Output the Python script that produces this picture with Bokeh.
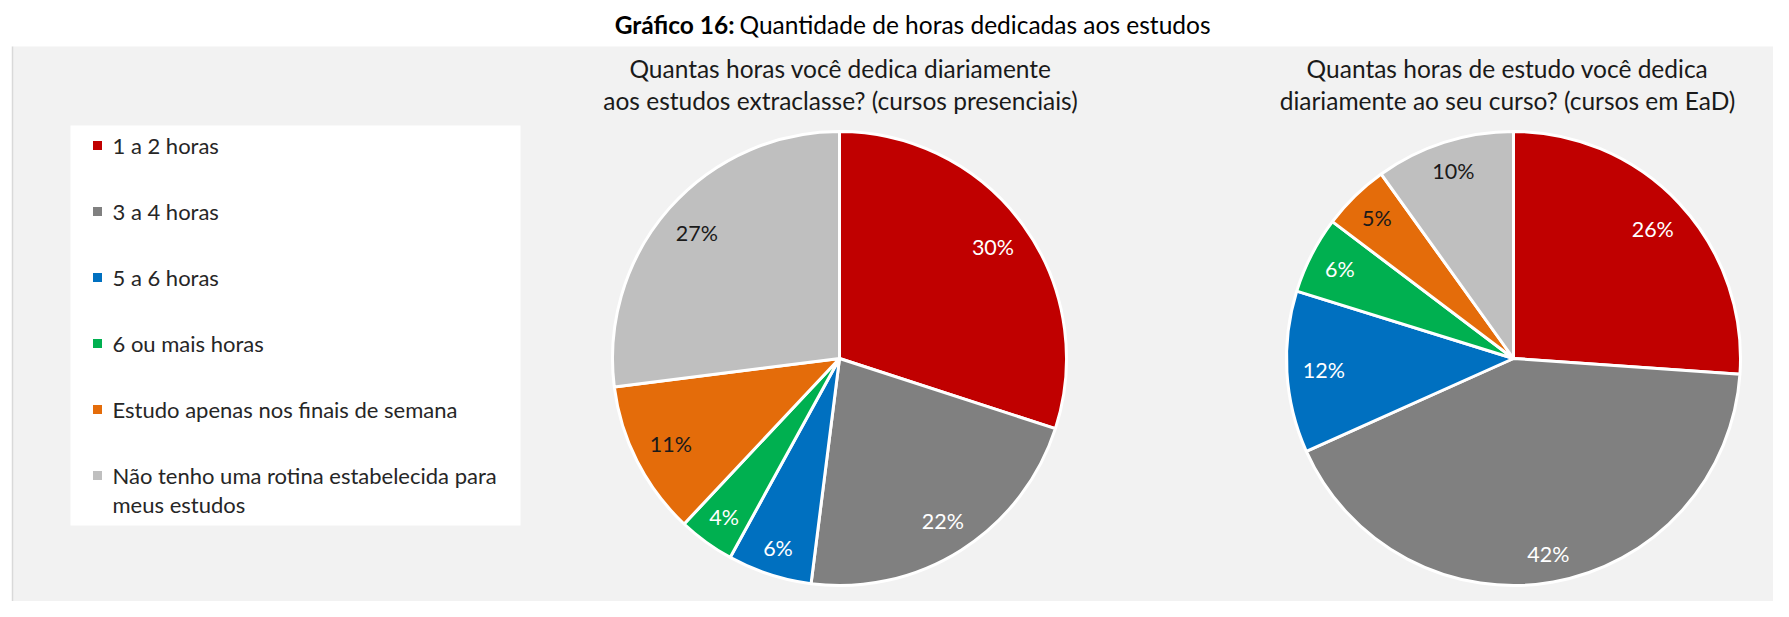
import numpy as np
from bokeh.plotting import figure
from bokeh.models import Range1d, ColumnDataSource
from bokeh.core.properties import value
from bokeh.embed import file_html
from bokeh.resources import INLINE

# ---------------- data ----------------
categories = ["1 a 2 horas", "3 a 4 horas", "5 a 6 horas", "6 ou mais horas",
              "Estudo apenas nos finais de semana",
              "Não tenho uma rotina estabelecida para\nmeus estudos"]
colors = ["#C00000", "#808080", "#0070C0", "#00B050", "#E46C0A", "#BFBFBF"]
label_colors = ["#FFFFFF", "#FFFFFF", "#FFFFFF", "#FFFFFF", "#1A1A1A", "#1A1A1A"]
presencial_values = [30, 22, 6, 4, 11, 27]
ead_values = [26.1, 42.2, 11.5, 5.5, 4.8, 9.9]
title_bold = "Gráfico 16:"
title_rest = "Quantidade de horas dedicadas aos estudos"
subtitle_1 = "Quantas horas você dedica diariamente\naos estudos extraclasse? (cursos presenciais)"
subtitle_2 = "Quantas horas de estudo você dedica\ndiariamente ao seu curso? (cursos em EaD)"

FONT = "Lato"
FW, FH = 1773, 601
EM_H = 1.2  # Lato ascent+descent in em

p = figure(width=FW, height=FH, output_backend="svg",
           toolbar_location=None, x_range=Range1d(0, FW),
           y_range=Range1d(0, FH), min_border=0)
p.axis.visible = False
p.grid.visible = False
p.outline_line_color = None
p.background_fill_color = "white"
p.border_fill_color = "white"


def Y(ys):
    return FH - np.asarray(ys, dtype=float)


# grey panel
p.quad(left=[12], right=[FW], top=[Y(46)], bottom=[Y(FH)],
       fill_color="#F2F2F2", line_color=None)
p.segment(x0=[12], y0=[Y(46)], x1=[12], y1=[Y(FH)], line_color="#D9D9D9", line_width=1.5)

# title
p.text(x=[734], y=Y([24]), text=[title_bold], text_align="right", text_baseline="middle",
       text_font=value(FONT), text_font_size="24.5px", text_font_style="bold",
       text_color="#000000")
p.text(x=[739], y=Y([24]), text=[title_rest], text_align="left", text_baseline="middle",
       text_font=value(FONT), text_font_size="24.5px", text_color="#000000")

# legend box
p.quad(left=[70], right=[520], top=[Y(125)], bottom=[Y(525)],
       fill_color="white", line_color=None)
leg_y = np.array([145, 211, 277, 343, 409, 475], dtype=float)
line_px = 28.5
nlines = np.array([c.count("\n") + 1 for c in categories])
p.rect(x=[97] * 6, y=Y(leg_y), width=9, height=9,
       fill_color=colors, line_color=None)
p.text(x=[112] * 6, y=Y(leg_y + (nlines - 1) * line_px / 2), text=categories,
       text_align="left", text_baseline="middle", text_font=value(FONT),
       text_font_size="22px", text_color="#262626",
       text_line_height=line_px / (EM_H * 22))


def pie(cx, cy, r, vals, subtitle, sub_x):
    vals = np.array(vals, dtype=float)
    frac = vals / vals.sum()
    cum = np.concatenate([[0], np.cumsum(frac)])
    # clockwise from 12 o'clock
    start = np.pi / 2 - 2 * np.pi * cum[1:]
    end = np.pi / 2 - 2 * np.pi * cum[:-1]
    src = ColumnDataSource(dict(start=start, end=end, color=colors))
    p.wedge(x=cx, y=float(Y(cy)), radius=r, start_angle="start", end_angle="end",
            fill_color="color", line_color="white", line_width=3, source=src)
    mid = (start + end) / 2
    labels = [f"{v:.0f}%" for v in vals]
    # "inside end" placement: the label box's outer corner touches an inner circle
    a = np.abs(np.cos(mid))
    b = np.abs(np.sin(mid))
    w = np.array([len(t) for t in labels]) * 6.85
    h = 8.0
    rin = 0.93 * r
    k = a * w + b * h
    d = -k + np.sqrt(k ** 2 - (w ** 2 + h ** 2 - rin ** 2))
    lx = cx + d * np.cos(mid)
    ly = float(Y(cy)) + d * np.sin(mid)
    p.text(x=lx, y=ly, text=labels, text_align="center", text_baseline="middle",
           text_font=value(FONT), text_font_size="21.5px", text_color=label_colors)
    p.text(x=[sub_x], y=Y([84]), text=[subtitle], text_align="center",
           text_baseline="middle", text_font=value(FONT), text_font_size="24.5px",
           text_color="#1A1A1A", text_line_height=33 / (EM_H * 24.5))


pie(839, 358, 227, presencial_values, subtitle_1, 840)
pie(1513, 358, 227, ead_values, subtitle_2, 1507)

open("out.html", "w").write(file_html(p, INLINE))
